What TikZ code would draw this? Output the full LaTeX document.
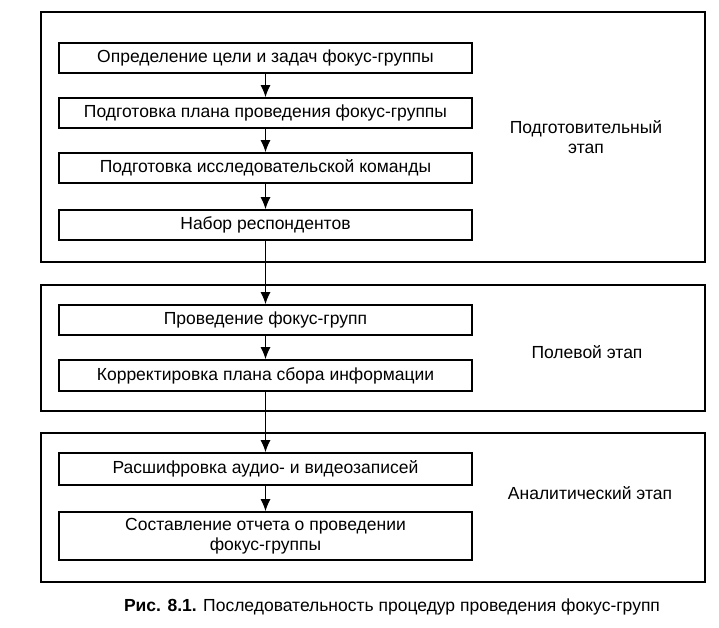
\documentclass[tikz,border=0pt]{standalone}
\usepackage{fontspec}
\setmainfont{Liberation Sans}
\usetikzlibrary{arrows.meta}
\begin{document}
\begin{tikzpicture}[x=1pt,y=1pt,
  stagebox/.style={draw, line width=1.5pt, inner sep=0pt},
  stepbox/.style={draw, line width=1.5pt, minimum width=413pt, minimum height=30pt, inner sep=0pt, align=center, font=\fontsize{17.5}{19.5}\selectfont},
  stagelabel/.style={align=center, font=\fontsize{17.5}{19.5}\selectfont},
  flow/.style={line width=1.3pt, -{Latex[length=12pt,width=10pt]}}]
\useasboundingbox (0,0) rectangle (719,628);
% stages
\node[stagebox, minimum width=664pt, minimum height=250pt] (s1) at (373,491) {};
\node[stagebox, minimum width=664pt, minimum height=126pt] (s2) at (373,280) {};
\node[stagebox, minimum width=664pt, minimum height=149pt] (s3) at (373,120.5) {};
% steps
\node[stepbox] (b1) at (265.5,570) {Определение цели и задач фокус-группы};
\node[stepbox] (b2) at (265.5,515) {Подготовка плана проведения фокус-группы};
\node[stepbox] (b3) at (265.5,460) {Подготовка исследовательской команды};
\node[stepbox] (b4) at (265.5,403) {Набор респондентов};
\node[stepbox] (b5) at (265.5,308) {Проведение фокус-групп};
\node[stepbox, minimum height=31pt] (b6) at (265.5,252.5) {Корректировка плана сбора информации};
\node[stepbox, minimum height=32pt] (b7) at (265.5,159) {Расшифровка аудио- и видеозаписей};
\node[stepbox, minimum height=48pt] (b8) at (265.5,92) {Составление отчета о проведении\\фокус-группы};
% stage labels
\node[stagelabel] (l1) at (586,491) {Подготовительный\\этап};
\node[stagelabel] (l2) at (587,276) {Полевой этап};
\node[stagelabel] (l3) at (590,135) {Аналитический этап};
% arrows
\draw[flow] (b1) -- (b2);
\draw[flow] (b2) -- (b3);
\draw[flow] (b3) -- (b4);
\draw[flow] (b4) -- (b5);
\draw[flow] (b5) -- (b6);
\draw[flow] (b6) -- (b7);
\draw[flow] (b7) -- (b8);
% caption
\node[font=\fontsize{17.5}{19.5}\selectfont] (cap) at (392,21) {\textbf{Рис. 8.1.} Последовательность процедур проведения фокус-групп};
\end{tikzpicture}
\end{document}
